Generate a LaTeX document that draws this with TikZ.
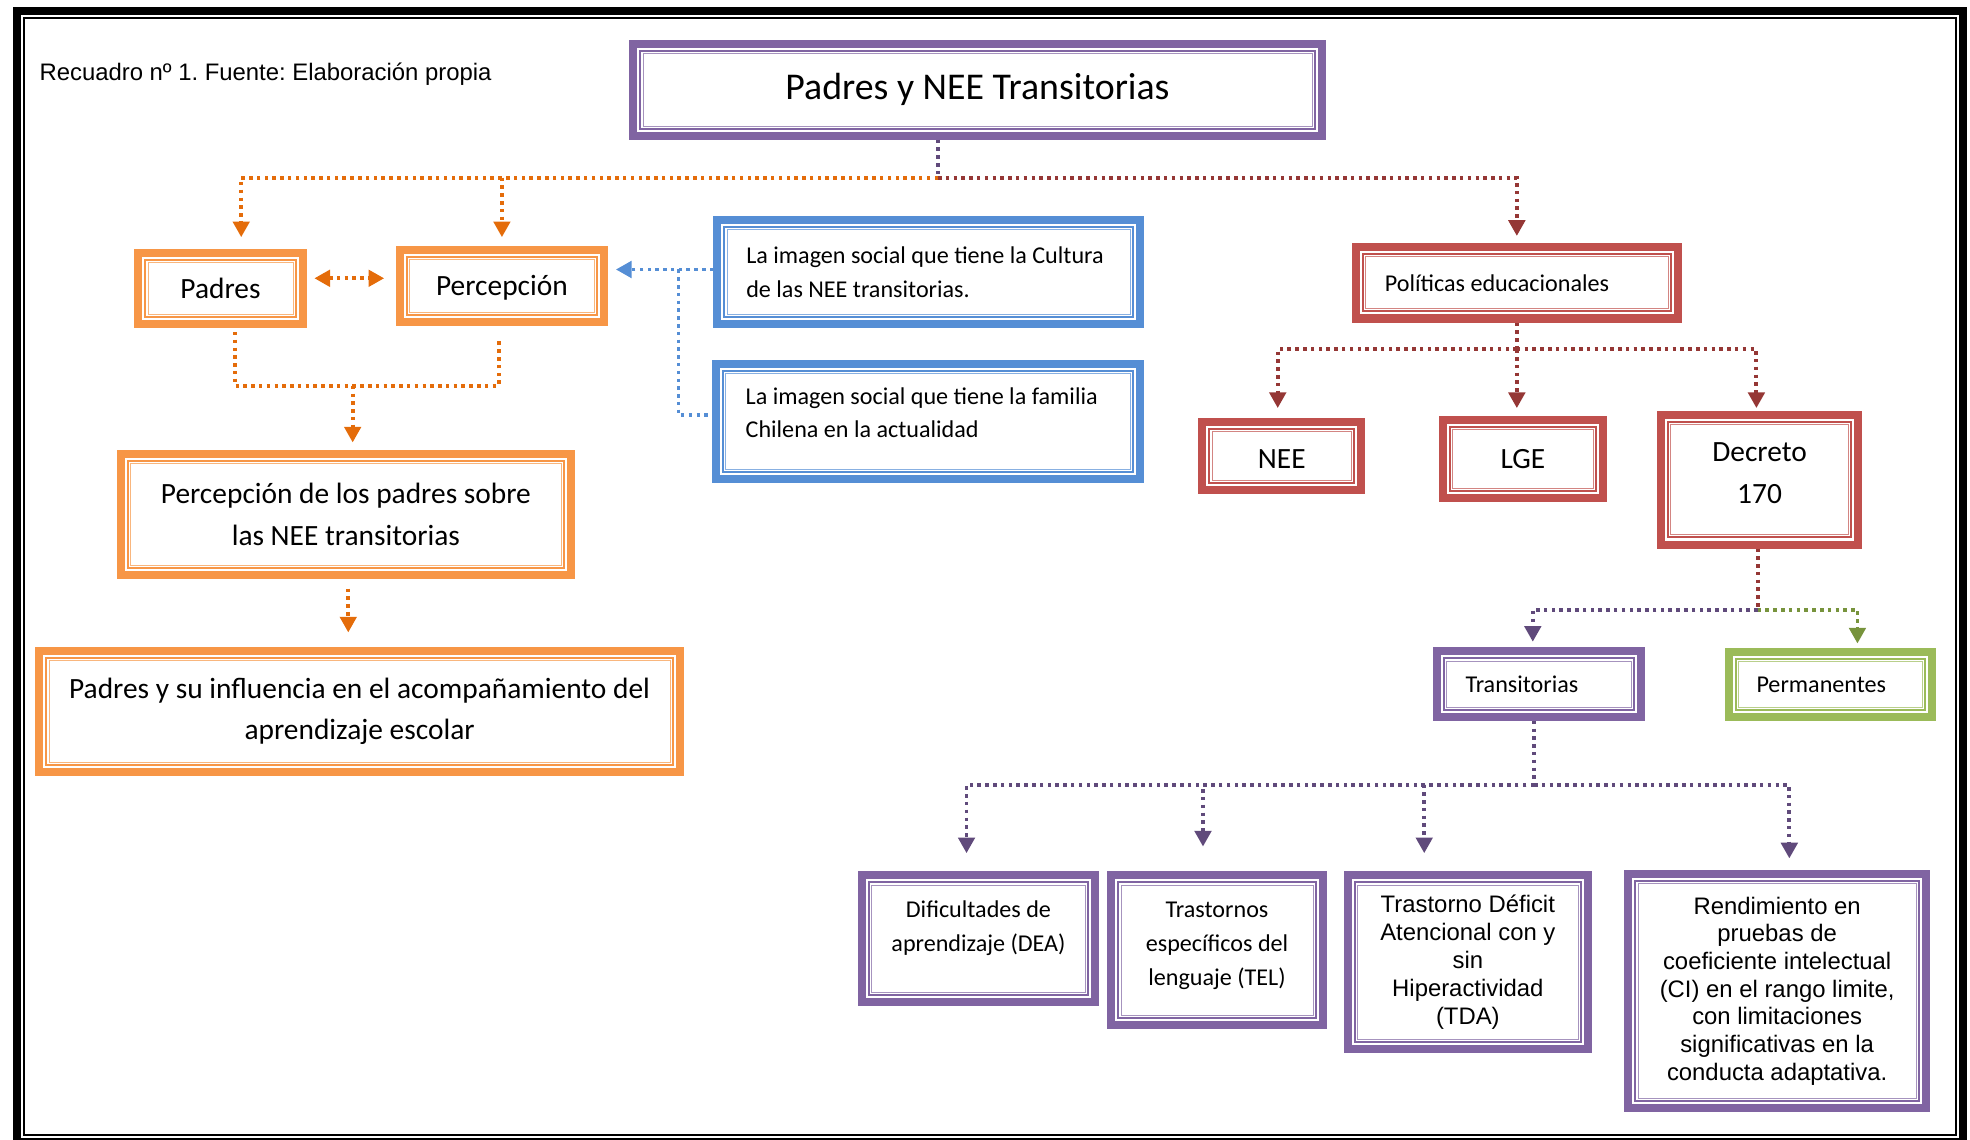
\documentclass[tikz,border=0pt]{standalone}
\usepackage{fontspec}
\setmainfont{Carlito}
\newfontfamily\arial{Liberation Sans}
\usetikzlibrary{arrows.meta}
\frenchspacing

\definecolor{obox}{HTML}{F79646}
\definecolor{oarr}{HTML}{E46C0A}
\definecolor{pbox}{HTML}{8064A2}
\definecolor{parr}{HTML}{604A7B}
\definecolor{bbox}{HTML}{558ED5}
\definecolor{rbox}{HTML}{C0504D}
\definecolor{rarr}{HTML}{953735}
\definecolor{gbox}{HTML}{9BBB59}
\definecolor{garr}{HTML}{77933C}

\tikzset{
  caja/.style={draw=#1, line width=6.4pt, fill=white, inner sep=0pt, align=flush center},
  linea/.style={#1, line width=3.1pt, dash pattern=on 2.8pt off 3.4pt},
  grande/.style={font=\fontsize{23.4}{33}\selectfont},
  chica/.style={font=\fontsize{19.2}{27}\selectfont},
}

\begin{document}
\begin{tikzpicture}[x=1pt, y=-1pt, >={Triangle[width=13pt,length=12.5pt]}]
		\useasboundingbox (0,0) rectangle (1568,907);
		\draw[line width=6pt] (13.5,8.8) rectangle (1562.5,909);
		\draw[line width=1.6pt] (19.4,14.6) rectangle (1557,903);
		\node[anchor=base west, inner sep=0pt, font=\arial\fontsize{19}{22}\selectfont] (fuente) at (31.3,63.7) {Recuadro nº 1. Fuente: Elaboración propia};
		% cajas
		\node[caja=pbox, minimum width=548, minimum height=73, font=\fontsize{30.1}{36}\selectfont] (top) at (778,71.5) {Padres y NEE Transitorias};
		\node[caja=obox, grande, minimum width=131, minimum height=57, text height=16pt, text depth=0pt] (padres) at (175.5,229.5) {Padres};
		\node[caja=obox, grande, minimum width=163, minimum height=57, text height=16pt, text depth=0pt] (percep) at (399.5,227.5) {Percepción};
		\node[caja=bbox, chica, align=flush left, text width=290.6, minimum width=336.6, minimum height=83] (cultura) at (739.3,216.5) {La imagen social que tiene la Cultura\\de las NEE transitorias.};
		\node[caja=bbox, chica, align=flush left, text width=290.6, minimum width=337.6, minimum height=92, text height=14pt, text depth=41.8pt] (familia) at (738.8,335.5) {La imagen social que tiene la familia\\Chilena en la actualidad};
		\node[caja=obox, grande, text width=330, minimum width=358.6, minimum height=97] (percpadres) at (275.3,409.5) {Percepción de los padres sobre\\las NEE transitorias};
		\node[caja=obox, grande, text width=490, minimum width=509.6, minimum height=96.6] (influencia) at (286.2,566.3) {Padres y su influencia en el acompañamiento del\\aprendizaje escolar};
		\node[caja=rbox, chica, align=flush left, text width=210, minimum width=256, minimum height=56.8] (politicas) at (1207.3,225.1) {Políticas educacionales};
		\node[caja=rbox, grande, minimum width=126.5, minimum height=54, text height=20pt, text depth=0pt] (nee) at (1020.2,363) {NEE};
		\node[caja=rbox, grande, minimum width=127, minimum height=62.3] (lge) at (1212.1,365.2) {LGE};
		\node[caja=rbox, grande, text width=140, minimum width=157, minimum height=103.4, text height=16pt, text depth=44.4pt] (decreto) at (1400.5,381.7) {Decreto\\170};
		\node[caja=pbox, chica, align=flush left, text width=116.7, minimum width=162.5, minimum height=52] (tran) at (1224.8,544.5) {Transitorias};
		\node[caja=gbox, chica, align=flush left, text width=117.9, minimum width=161.5, minimum height=52] (perm) at (1457,545) {Permanentes};
		\node[caja=pbox, chica, text width=170, minimum width=185.6, minimum height=101.2, text height=14pt, text depth=48.4pt] (dea) at (778.8,747.2) {Dificultades de\\aprendizaje (DEA)};
		\node[caja=pbox, chica, text width=150, minimum width=168.4, minimum height=119.6, text height=14pt, text depth=66.8pt] (tel) at (968.7,756.4) {Trastornos\\específicos del\\lenguaje (TEL)};
		\node[caja=pbox, font=\arial\fontsize{19}{22.2}\selectfont, text width=175, minimum width=191.3, minimum height=138.4] (tda) at (1168.3,765.8) {Trastorno Déficit\\Atencional con y\\sin\\Hiperactividad\\(TDA)};
		\node[caja=pbox, font=\arial\fontsize{19}{22.07}\selectfont, text width=220, minimum width=237, minimum height=186.5] (rend) at (1414.5,788.8) {Rendimiento en\\pruebas de\\coeficiente intelectual\\(CI) en el rango limite,\\con limitaciones\\significativas en la\\conducta adaptativa.};
		% lineas interiores de las cajas
		\foreach \n/\c in {top/pbox, padres/obox, percep/obox, percpadres/obox, influencia/obox, cultura/bbox, familia/bbox, politicas/rbox, nee/rbox, lge/rbox, decreto/rbox, tran/pbox, perm/gbox, dea/pbox, tel/pbox, tda/pbox, rend/pbox}{
			\draw[\c, line width=1.6pt] ([shift={(8.8pt,8.8pt)}]\n.south west) rectangle ([shift={(-8.8pt,-8.8pt)}]\n.north east);
			\draw[\c!70, line width=0.6pt] ([shift={(10.9pt,10.9pt)}]\n.south west) rectangle ([shift={(-10.9pt,-10.9pt)}]\n.north east);
		}
		% uniones
		\coordinate (j0) at (746.6,141.4);
		\coordinate (j1) at (280.7,307);
		\coordinate (jb) at (540,214.5);
		\coordinate (j2) at (1207.3,278);
		\coordinate (j3) at (1399,485.3);
		\coordinate (j4) at (1221,625);
		% conectores
		\draw[linea=parr] (top.south -| j0) -- (j0);
		\draw[linea=oarr,->] (j0) -| ([xshift=16.5pt,yshift=9pt]padres.north);
		\draw[linea=oarr,->] (percep.north |- j0) -- ([yshift=7pt]percep.north);
		\draw[linea=rarr,->] (j0) -| ([yshift=5.7pt]politicas.north);
		\draw[linea=oarr,<->] ([xshift=6pt,yshift=8pt]padres.east) -- ([xshift=-9pt,yshift=6pt]percep.west);
		\draw[linea=oarr] ([xshift=11.4pt,yshift=-3pt]padres.south) |- (j1) -| ([xshift=-2.6pt,yshift=-9.4pt]percep.south);
		\draw[linea=oarr,->] (j1) -- ([xshift=5.4pt,yshift=5.6pt]percpadres.north);
		\draw[linea=oarr,->] ([xshift=1.9pt,yshift=-7.3pt]percpadres.south) -- ([xshift=-9pt,yshift=11.4pt]influencia.north);
		\draw[linea=bbox,->] ([yshift=2pt]cultura.west) -- ([xshift=6pt,yshift=13pt]percep.east);
		\draw[linea=bbox] (jb) |- ([yshift=5.2pt]familia.west);
		\draw[linea=rarr] (politicas.south) -- (j2);
		\draw[linea=rarr,->] (j2) -| ([xshift=-3.2pt,yshift=8pt]nee.north);
		\draw[linea=rarr,->] (j2) -- ([xshift=-4.8pt,yshift=6pt]lge.north);
		\draw[linea=rarr,->] (j2) -| ([xshift=-2.5pt,yshift=2pt]decreto.north);
		\draw[linea=rarr] ([xshift=-1.5pt]decreto.south) -- (j3);
		\draw[linea=parr,->] (j3) -| ([xshift=-4.8pt,yshift=4.5pt]tran.north);
		\draw[linea=garr,->] (j3) -| ([xshift=21.4pt,yshift=3.6pt]perm.north);
		\draw[linea=parr] ([xshift=-3.8pt]tran.south) -- (j4);
		\draw[linea=parr,->] (j4) -| ([xshift=-9.5pt,yshift=14.3pt]dea.north);
		\draw[linea=parr,->] (j4) -| ([xshift=-11.2pt,yshift=19.6pt]tel.north);
		\draw[linea=parr,->] (j4) -| ([xshift=-34.7pt,yshift=14.3pt]tda.north);
		\draw[linea=parr,->] (j4) -| ([xshift=9.7pt,yshift=9.1pt]rend.north);
\end{tikzpicture}
\end{document}
